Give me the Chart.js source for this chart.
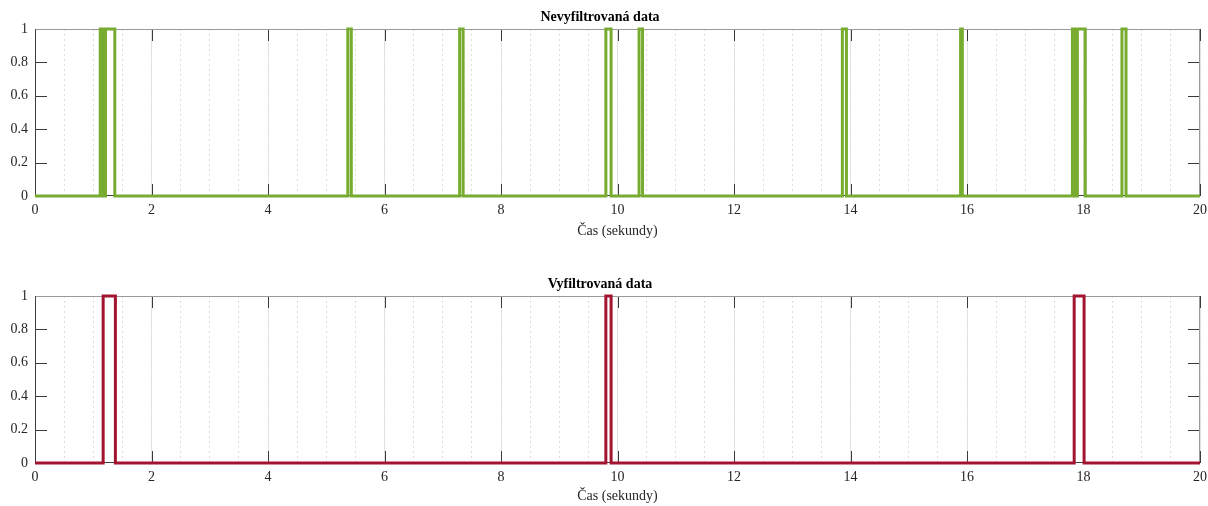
<!DOCTYPE html>
<html>
<head>
<meta charset="utf-8">
<script src="https://cdn.jsdelivr.net/npm/chart.js@4/dist/chart.umd.min.js"></script>
<style>
html,body{margin:0;padding:0;background:#fff;overflow:hidden;width:1208px;height:506px}
canvas{position:absolute;left:0}
#rawChart{top:0}
#filtChart{top:263px}
</style>
</head>
<body>
<canvas id="rawChart" width="1235" height="253"></canvas>
<canvas id="filtChart" width="1235" height="243"></canvas>
<script>
// raw detector output: switching times (s) and the level after each switch
const rawTime  = [0, 1.12, 1.135, 1.15, 1.165, 1.18, 1.195, 1.21, 1.37, 5.37, 5.43, 7.29, 7.35,
                  9.80, 9.89, 10.37, 10.43, 13.86, 13.93, 15.89, 15.92,
                  17.81, 17.825, 17.84, 17.855, 17.87, 17.885, 17.895, 18.03, 18.66, 18.73, 20];
const rawValue = [0, 1, 0, 1, 0, 1, 0, 1, 0, 1, 0, 1, 0,
                  1, 0, 1, 0, 1, 0, 1, 0,
                  1, 0, 1, 0, 1, 0, 1, 0, 1, 0, 0];

// after filtering only the longer pulses are kept
const filtTime  = [0, 1.17, 1.38, 9.80, 9.89, 17.84, 18.01, 20];
const filtValue = [0, 1, 0, 1, 0, 1, 0, 0];

const xTicks = [0, 2, 4, 6, 8, 10, 12, 14, 16, 18, 20];
const yTicks = [0, 0.2, 0.4, 0.6, 0.8, 1];

const serif = "'Liberation Serif', 'Times New Roman', serif";

// axes frame with inward tick marks, drawn under the data
const axesBox = {
  id: 'axesBox',
  beforeDatasetsDraw(chart) {
    const {ctx, chartArea: a, scales: {x, y}} = chart;
    const len = 12;
    ctx.save();
    ctx.lineWidth = 1;
    ctx.strokeStyle = '#3a3a3a';
    ctx.beginPath();
    x.ticks.forEach(t => {
      const px = Math.round(x.getPixelForValue(t.value)) + 0.5;
      ctx.moveTo(px, a.bottom); ctx.lineTo(px, a.bottom - len);
      ctx.moveTo(px, a.top); ctx.lineTo(px, a.top + len);
    });
    y.ticks.forEach(t => {
      const py = Math.round(y.getPixelForValue(t.value)) + 0.5;
      ctx.moveTo(a.left, py); ctx.lineTo(a.left + len, py);
      ctx.moveTo(a.right, py); ctx.lineTo(a.right - len, py);
    });
    ctx.stroke();
    const l = Math.round(a.left) + 0.5, r = Math.round(a.right) - 0.5;
    const t = Math.round(a.top) + 0.5, b = Math.round(a.bottom) - 0.5;
    ctx.strokeStyle = '#9a9a9a';
    ctx.beginPath();
    ctx.moveTo(l, t); ctx.lineTo(r, t); ctx.lineTo(r, b);
    ctx.stroke();
    ctx.strokeStyle = '#404040';
    ctx.beginPath();
    ctx.moveTo(l, t); ctx.lineTo(l, b); ctx.lineTo(r, b);
    ctx.stroke();
    ctx.restore();
  }
};

function makeChart(id, title, times, values, color, titlePad, axisHeight, labelPad) {
  return new Chart(document.getElementById(id), {
    type: 'line',
    data: {
      datasets: [{
        data: times.map((t, i) => ({x: t, y: values[i]})),
        borderColor: color,
        borderWidth: 3,
        pointRadius: 0,
        stepped: 'before',
        fill: false,
        clip: 4
      }]
    },
    options: {
      responsive: false,
      animation: false,
      layout: {padding: {left: 0, right: 35, top: 0, bottom: 0}},
      plugins: {
        legend: {display: false},
        tooltip: {enabled: false},
        title: {
          display: true,
          text: title,
          color: '#000',
          font: {family: serif, size: 14, weight: 'bold', lineHeight: 1.2},
          padding: titlePad
        }
      },
      scales: {
        x: {
          type: 'linear',
          min: 0, max: 20,
          afterBuildTicks: s => { s.ticks = xTicks.map(v => ({value: v})); },
          afterFit: s => { s.height = axisHeight; },
          ticks: {color: '#262626', font: {family: serif, size: 14}, padding: 6, maxRotation: 0, autoSkip: false},
          grid: {color: '#e4e4e4', drawTicks: false},
          border: {display: false},
          title: {
            display: true,
            text: 'Čas (sekundy)',
            color: '#262626',
            font: {family: serif, size: 14, lineHeight: 1.2},
            padding: {top: 0, bottom: labelPad}
          }
        },
        xMinor: {
          type: 'linear',
          position: 'top',
          min: 0, max: 20,
          ticks: {display: false, stepSize: 0.5},
          afterFit: s => { s.height = 0; },
          grid: {color: '#dcdcdc', drawTicks: false},
          border: {display: false, dash: [2, 3]}
        },
        y: {
          min: 0, max: 1,
          afterBuildTicks: s => { s.ticks = yTicks.map(v => ({value: v})); },
          afterFit: s => { s.width = 35; },
          ticks: {
            color: '#262626', font: {family: serif, size: 14}, padding: 7,
            callback: v => String(Math.round(v * 10) / 10)
          },
          grid: {display: false, drawTicks: false},
          border: {display: false}
        }
      }
    },
    plugins: [axesBox]
  });
}

makeChart('rawChart', 'Nevyfiltrovaná data', rawTime, rawValue, '#77AC30',
  {top: 8.6, bottom: 3.6}, 57, 13.6);
makeChart('filtChart', 'Vyfiltrovaná data', filtTime, filtValue, '#A2142F',
  {top: 12.6, bottom: 3.6}, 43, 1.6);
</script>
</body>
</html>
